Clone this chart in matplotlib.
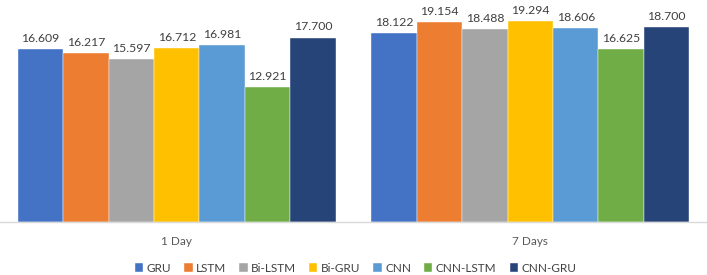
import matplotlib
matplotlib.use('Agg')
import matplotlib.pyplot as plt
import numpy as np

plt.rcParams['font.family'] = ['Lato', 'DejaVu Sans']

groups = ['1 Day', '7 Days']
models = ['GRU', 'LSTM', 'Bi-LSTM', 'Bi-GRU', 'CNN', 'CNN-LSTM', 'CNN-GRU']
gru = [16.609, 18.122]
lstm = [16.217, 19.154]
bilstm = [15.597, 18.488]
bigru = [16.712, 19.294]
cnn = [16.981, 18.606]
cnn_lstm = [12.921, 16.625]
cnn_gru = [17.700, 18.700]
series = [gru, lstm, bilstm, bigru, cnn, cnn_lstm, cnn_gru]
colors = ['#4472C4', '#ED7D31', '#A5A5A5', '#FFC000', '#5B9BD5', '#70AD47', '#264478']

fig = plt.figure(figsize=(7.07, 2.75), dpi=100)
ax = fig.add_axes([0, 0.1927, 1, 0.758])

x = np.arange(len(groups))
w = 0.9 / len(models)
for i, (name, vals, c) in enumerate(zip(models, series, colors)):
    pos = x + (i - 3) * w
    bars = ax.bar(pos, vals, width=w, color=c, label=name, edgecolor='white', linewidth=0.3)
    for b, v in zip(bars, vals):
        ax.text(b.get_x() + b.get_width() / 2, v + 0.5, f'{v:.3f}', ha='center', va='bottom',
                fontsize=8.8, color='#404040', clip_on=False)

ax.set_xlim(-0.5, 1.5)
ax.set_ylim(0, 20)
ax.set_xticks(x)
ax.set_xticklabels(groups, fontsize=8.5, color='#595959')
ax.tick_params(axis='x', length=0, pad=10)
ax.set_yticks([])
for s in ['left', 'right', 'top']:
    ax.spines[s].set_visible(False)
ax.spines['bottom'].set_color('#d9d9d9')
ax.spines['bottom'].set_linewidth(1)

fig.legend(loc='center', bbox_to_anchor=(0.503, 0.025), ncol=7, frameon=False, fontsize=8.5,
           handlelength=0.7, handleheight=0.7, handletextpad=0.3, columnspacing=1.1,
           labelcolor='#404040')

fig.savefig('out.png', dpi=100)
